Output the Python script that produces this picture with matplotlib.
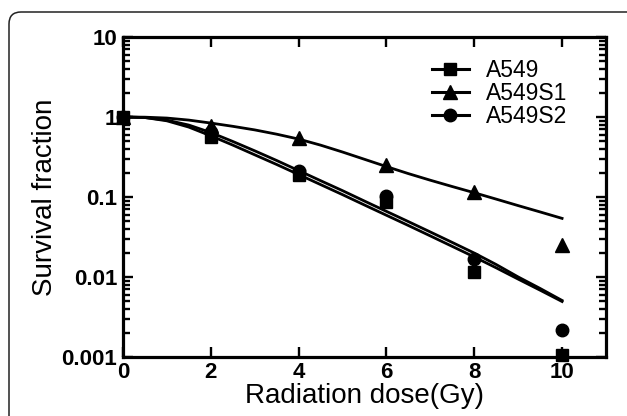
import matplotlib
matplotlib.use("Agg")
import matplotlib.pyplot as plt
from matplotlib.lines import Line2D
from matplotlib.patches import FancyBboxPatch
from matplotlib.transforms import IdentityTransform
from matplotlib.ticker import LogLocator, NullFormatter, FixedLocator

plt.rcParams['font.family'] = ['Liberation Sans', 'DejaVu Sans']

# measured survival fractions
dose = [0, 2, 4, 6, 8, 10]
sf_a549 = [1.0, 0.56, 0.19, 0.087, 0.0115, 0.00106]
sf_s1 = [1.0, 0.78, 0.55, 0.25, 0.115, 0.025]
sf_s2 = [1.0, 0.65, 0.21, 0.104, 0.017, 0.0022]

# fitted curves, every 0.5 Gy
fit_dose = [0, 0.5, 1, 1.5, 2, 2.5, 3, 3.5, 4, 4.5, 5,
            5.5, 6, 6.5, 7, 7.5, 8, 8.5, 9, 9.5, 10]
fit_s1 = [1.0, 0.995, 0.97, 0.915, 0.84, 0.765, 0.69, 0.61, 0.53, 0.445, 0.365,
          0.296, 0.24, 0.196, 0.162, 0.135, 0.113, 0.094, 0.078, 0.065, 0.054]
fit_s2 = [1.0, 0.985, 0.914, 0.793, 0.640, 0.495, 0.378, 0.286, 0.214, 0.160, 0.120,
          0.0889, 0.0661, 0.0492, 0.0365, 0.0270, 0.0199, 0.0143, 0.0100, 0.00718, 0.00508]
fit_a549 = [1.0, 0.985, 0.896, 0.748, 0.582, 0.446, 0.337, 0.255, 0.191, 0.143, 0.107,
            0.0794, 0.0591, 0.0440, 0.0326, 0.0241, 0.0178, 0.0130, 0.0094, 0.00683, 0.00493]

labels = ['A549', 'A549S1', 'A549S2']
x_ticks = [0, 2, 4, 6, 8, 10]

fig = plt.figure(figsize=(6.27, 4.16), dpi=100)
ax = fig.add_axes([0.196, 0.142, 0.7705, 0.769])

lw = 2.0
ax.plot(fit_dose, fit_s1, color='black', lw=lw)
ax.plot(fit_dose, fit_s2, color='black', lw=lw)
ax.plot(fit_dose, fit_a549, color='black', lw=lw)

ax.plot(dose, sf_s1, ls='none', marker='^', ms=9.5, color='black', clip_on=False, zorder=4)
ax.plot(dose, sf_s2, ls='none', marker='o', ms=9, color='black', clip_on=False, zorder=4)
ax.plot(dose, sf_a549, ls='none', marker='s', ms=9, color='black', clip_on=False, zorder=5)

ax.set_yscale('log')
ax.set_xlim(0, 11)
ax.set_ylim(0.001, 10)
ax.xaxis.set_major_locator(FixedLocator(x_ticks))
ax.set_xticklabels([str(t) for t in x_ticks])
ax.yaxis.set_major_locator(LogLocator(base=10, numticks=10))
ax.yaxis.set_minor_locator(LogLocator(base=10, subs=range(2, 10), numticks=10))
ax.yaxis.set_minor_formatter(NullFormatter())
ax.set_yticks([0.001, 0.01, 0.1, 1, 10])
ax.set_yticklabels(['0.001', '0.01', '0.1', '1', '10'])

for s in ax.spines.values():
    s.set_linewidth(2.3)
ax.tick_params(which='both', direction='in', top=True, right=True, width=1.7,
               labelsize=16, pad=4)
ax.tick_params(which='major', length=7.5)
ax.tick_params(which='minor', length=5)
for t in ax.get_xticklabels() + ax.get_yticklabels():
    t.set_fontweight('bold')

ax.set_xlabel('Radiation dose(Gy)', fontsize=20, labelpad=0)
ax.set_ylabel('Survival fraction', fontsize=20)
ax.yaxis.set_label_coords(-0.135, 0.5)

handles = [Line2D([], [], color='black', lw=2.2, marker=m, ms=ms)
           for m, ms in zip(['s', '^', 'o'], [9, 9.5, 9])]
ax.legend(handles, labels, loc='upper left', bbox_to_anchor=(0.64, 0.93),
          frameon=False, fontsize=16.5, handlelength=1.6, handletextpad=0.75,
          labelspacing=0.0, borderpad=0, borderaxespad=0, numpoints=1)

# rounded frame around the figure
frame = FancyBboxPatch((9, -30), 700, 416 - 12 + 30,
                       boxstyle='round,pad=0,rounding_size=12',
                       transform=IdentityTransform(), fill=False,
                       edgecolor='#222222', lw=1.1)
fig.patches.append(frame)

fig.savefig('out.png', dpi=100)
